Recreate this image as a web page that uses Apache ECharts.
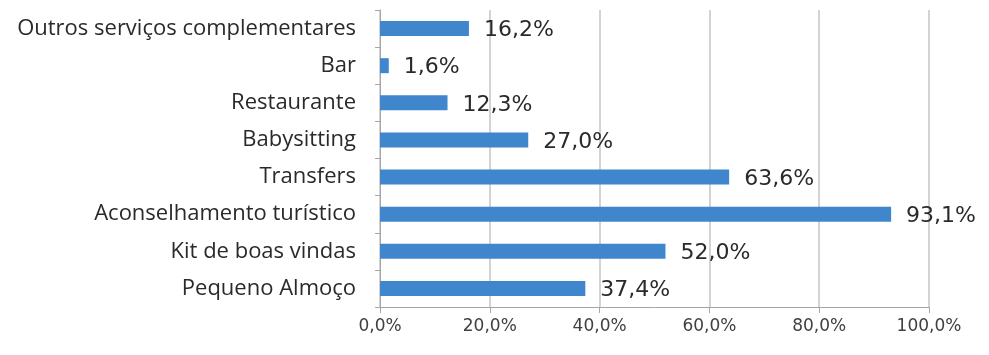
<!DOCTYPE html>
<html>
<head>
<meta charset="utf-8">
<script src="https://cdn.jsdelivr.net/npm/echarts@6/dist/echarts.min.js"></script>
<style>
  html, body { margin: 0; padding: 0; background: #fff; }
  #chart { width: 989px; height: 355px; }
</style>
</head>
<body>
<div id="chart"></div>
<script>
// Services offered (bottom to top on the chart)
const categories = [
  'Pequeno Almoço',
  'Kit de boas vindas',
  'Aconselhamento turístico',
  'Transfers',
  'Babysitting',
  'Restaurante',
  'Bar',
  'Outros serviços complementares'
];
const values = [37.4, 52.0, 93.1, 63.6, 27.0, 12.3, 1.6, 16.2];
const xTicks = [0, 20, 40, 60, 80, 100];

const fmt = v => v.toFixed(1).replace('.', ',') + '%';

const chart = echarts.init(document.getElementById('chart'), null, { renderer: 'canvas' });
chart.setOption({
  animation: false,
  backgroundColor: '#ffffff',
  grid: { left: 380, right: 60, top: 10, bottom: 48, containLabel: false },
  xAxis: {
    type: 'value',
    min: xTicks[0],
    max: xTicks[xTicks.length - 1],
    interval: 20,
    axisLine: { show: true, lineStyle: { color: '#a6a6a6', width: 1 } },
    axisTick: { show: true, length: 6, lineStyle: { color: '#a6a6a6' } },
    splitLine: { show: true, lineStyle: { color: '#c4c4c4', width: 1.5 } },
    axisLabel: {
      formatter: v => fmt(v),
      color: '#404040',
      fontFamily: 'DejaVu Sans, sans-serif',
      fontSize: 17,
      margin: 11
    }
  },
  yAxis: {
    type: 'category',
    data: categories,
    axisLine: { show: true, lineStyle: { color: '#a6a6a6', width: 1 } },
    axisTick: { show: true, length: 5, lineStyle: { color: '#a6a6a6' } },
    axisLabel: {
      color: '#2a2a2a',
      fontFamily: 'Open Sans, Noto Sans, sans-serif',
      fontSize: 22,
      margin: 24
    }
  },
  series: [{
    type: 'bar',
    data: values,
    barWidth: 15,
    itemStyle: { color: '#3f86cc' },
    label: {
      show: true,
      position: 'right',
      distance: 15,
      formatter: p => fmt(p.value),
      color: '#2a2a2a',
      fontFamily: 'DejaVu Sans, sans-serif',
      fontSize: 22,
      offset: [0, 2]
    }
  }]
});
</script>
</body>
</html>
